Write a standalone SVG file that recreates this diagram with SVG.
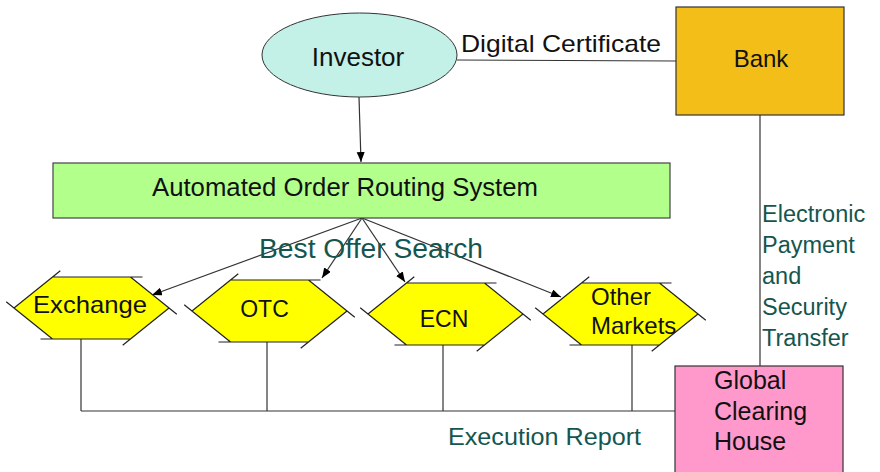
<svg xmlns="http://www.w3.org/2000/svg" xmlns:xlink="http://www.w3.org/1999/xlink" width="880" height="472" viewBox="0 0 880 472">
<style>
text{font-family:"Liberation Sans",Arial,sans-serif;fill:#111}
.lbl{fill:#14564f}
.ln{stroke:#333;stroke-width:1.2;fill:none}
.hexfill{fill:#ffff00;stroke:none}
.hexedge{stroke:#222;stroke-width:1.2;fill:none}
</style>
<defs>
<marker id="arr" markerUnits="userSpaceOnUse" markerWidth="11" markerHeight="9" refX="10" refY="4" orient="auto">
<path d="M0,0 L10,4 L0,8 z" fill="#000"/>
</marker>
<g id="hex">
<polygon class="hexfill" points="-77.5,0 -39,-31 39,-31 77.5,0 39,31 -39,31"/>
<path class="hexedge" d="M-77.5,0 L-31.2,-37.3 M-39,-31 L51,-31 M39,-31 L85.3,6.3 M77.5,0 L31.2,37.3 M39,31 L-51,31 M-39,31 L-85.3,-6.3"/>
</g>
</defs>
<rect width="880" height="472" fill="#fff"/>

<g id="connectors">
<line class="ln" x1="457" y1="60" x2="676" y2="61"/>
<line class="ln" x1="359" y1="97" x2="361" y2="162" marker-end="url(#arr)"/>
<line class="ln" x1="362" y1="218" x2="152" y2="295" marker-end="url(#arr)"/>
<line class="ln" x1="362" y1="218" x2="322" y2="278" marker-end="url(#arr)"/>
<line class="ln" x1="362" y1="218" x2="405" y2="282" marker-end="url(#arr)"/>
<line class="ln" x1="362" y1="218" x2="561" y2="297" marker-end="url(#arr)"/>
<line class="ln" x1="760" y1="115" x2="760" y2="366"/>
<line class="ln" x1="81" y1="339" x2="81" y2="411"/>
<line class="ln" x1="267" y1="342" x2="267" y2="411"/>
<line class="ln" x1="443" y1="345" x2="443" y2="411"/>
<line class="ln" x1="632" y1="345" x2="632" y2="411"/>
<line class="ln" x1="81" y1="411" x2="675" y2="411"/>
</g>

<g id="investor">
<ellipse cx="359.5" cy="55" rx="97.5" ry="42" fill="#c3f1e8" stroke="#333" stroke-width="1"/>
<text x="358" y="66" font-size="26" text-anchor="middle">Investor</text>
</g>

<g id="digital-certificate-label">
<text x="461" y="52" font-size="24" textLength="200" lengthAdjust="spacingAndGlyphs">Digital Certificate</text>
</g>

<g id="bank">
<rect x="676" y="7" width="168" height="108" fill="#f3be18" stroke="#333" stroke-width="1.2"/>
<text x="761" y="67" font-size="24" text-anchor="middle">Bank</text>
</g>

<g id="aors">
<rect x="53" y="163" width="617" height="55" fill="#b3ff8c" stroke="#444" stroke-width="1.2"/>
<text x="345" y="196" font-size="25.5" text-anchor="middle" textLength="386" lengthAdjust="spacingAndGlyphs">Automated Order Routing System</text>
</g>

<g id="best-offer-label">
<text class="lbl" x="371" y="258" font-size="27" text-anchor="middle" textLength="224" lengthAdjust="spacingAndGlyphs">Best Offer Search</text>
</g>

<g id="exchange">
<use xlink:href="#hex" href="#hex" transform="translate(91.5,308)"/>
<text x="90" y="313" font-size="24" text-anchor="middle" textLength="114" lengthAdjust="spacingAndGlyphs">Exchange</text>
</g>

<g id="otc">
<use xlink:href="#hex" href="#hex" transform="translate(269.5,311)"/>
<text x="264.5" y="317" font-size="23" text-anchor="middle">OTC</text>
</g>

<g id="ecn">
<use xlink:href="#hex" href="#hex" transform="translate(445.5,314)"/>
<text x="444" y="327" font-size="23" text-anchor="middle">ECN</text>
</g>

<g id="other-markets">
<use xlink:href="#hex" href="#hex" transform="translate(620.5,314)"/>
<text x="591" y="305" font-size="24">Other</text>
<text x="591" y="334" font-size="24">Markets</text>
</g>

<g id="payment-label">
<text class="lbl" font-size="23.5">
<tspan x="762" y="222">Electronic</tspan>
<tspan x="762" y="253">Payment</tspan>
<tspan x="762" y="284">and</tspan>
<tspan x="762" y="315">Security</tspan>
<tspan x="762" y="346">Transfer</tspan>
</text>
</g>

<g id="global-clearing-house">
<rect x="675" y="366" width="168" height="112" fill="#ff99cc" stroke="#333" stroke-width="1.2"/>
<text font-size="25">
<tspan x="714" y="389">Global</tspan>
<tspan x="714" y="420">Clearing</tspan>
<tspan x="714" y="450">House</tspan>
</text>
</g>

<g id="execution-report-label">
<text class="lbl" x="448" y="445" font-size="24.5" textLength="193" lengthAdjust="spacingAndGlyphs">Execution Report</text>
</g>
</svg>
